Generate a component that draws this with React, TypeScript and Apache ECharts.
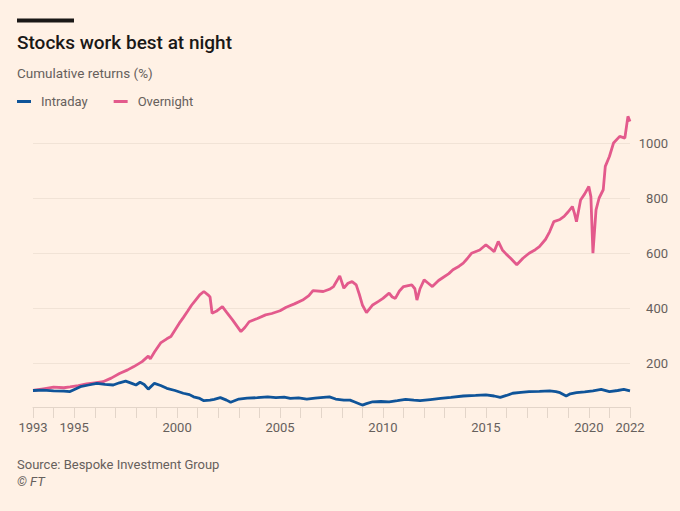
import React, { useEffect, useRef } from 'react';
import * as echarts from 'echarts';

// Overnight cumulative returns (%)
const overnightYears = [
  1993.0, 1993.5, 1994.0, 1994.5, 1994.8, 1995.2, 1995.6, 1996.0, 1996.4, 1996.8,
  1997.2, 1997.6, 1997.9, 1998.3, 1998.6, 1998.7, 1998.9, 1999.2, 1999.5, 1999.7,
  2000.1, 2000.3, 2000.5, 2000.7, 2000.9, 2001.1, 2001.3, 2001.5, 2001.6, 2001.7,
  2001.9, 2002.2, 2002.4, 2002.7, 2002.9, 2003.1, 2003.3, 2003.5, 2003.9, 2004.3,
  2004.6, 2005.0, 2005.3, 2005.7, 2006.1, 2006.4, 2006.6, 2007.1, 2007.4, 2007.6,
  2007.9, 2008.1, 2008.3, 2008.5, 2008.7, 2008.85, 2009.0, 2009.2, 2009.5, 2009.8,
  2010.0, 2010.3, 2010.45, 2010.6, 2010.8, 2011.0, 2011.4, 2011.55, 2011.65, 2011.8,
  2012.0, 2012.2, 2012.4, 2012.7, 2012.9, 2013.2, 2013.4, 2013.7, 2013.9, 2014.1,
  2014.3, 2014.7, 2015.0, 2015.2, 2015.4, 2015.6, 2015.8, 2016.0, 2016.2, 2016.5,
  2016.8, 2017.1, 2017.4, 2017.6, 2017.9, 2018.1, 2018.3, 2018.6, 2018.8, 2019.0,
  2019.2, 2019.3, 2019.4, 2019.6, 2019.8, 2020.0, 2020.1, 2020.2, 2020.35, 2020.5,
  2020.7, 2020.8, 2021.0, 2021.2, 2021.5, 2021.75, 2021.9, 2022.0,
];
const overnightValues = [
  100, 106, 112, 110, 113, 118, 124, 128, 132, 145,
  162, 175, 187, 205, 225, 215, 240, 273, 288, 296,
  344, 365, 387, 410, 429, 448, 460, 448, 440, 381,
  388, 405, 385, 356, 335, 314, 330, 350, 362, 375,
  380, 390, 403, 415, 429, 445, 463, 460, 468, 478,
  517, 472, 490, 496, 484, 450, 411, 383, 411, 425,
  435, 454, 440, 435, 462, 478, 484, 470, 429, 470,
  502, 490, 478, 500, 510, 525, 539, 552, 563, 580,
  599, 611, 630, 618, 605, 642, 611, 595, 581, 557,
  581, 599, 612, 623, 650, 678, 714, 722, 733, 750,
  769, 745, 714, 793, 815, 842, 805, 599, 757, 800,
  830, 915, 951, 1000, 1024, 1018, 1097, 1078,
];

// Intraday cumulative returns (%)
const intradayYears = [
  1993.0, 1993.5, 1994.0, 1994.5, 1994.8, 1995.3, 1995.7, 1996.1, 1996.5, 1996.9,
  1997.2, 1997.5, 1997.8, 1998.0, 1998.2, 1998.4, 1998.6, 1998.9, 1999.2, 1999.5,
  1999.9, 2000.3, 2000.6, 2000.8, 2001.1, 2001.3, 2001.6, 2001.8, 2002.1, 2002.4,
  2002.6, 2003.0, 2003.4, 2003.9, 2004.4, 2004.8, 2005.2, 2005.5, 2005.9, 2006.3,
  2006.7, 2007.1, 2007.4, 2007.7, 2008.1, 2008.4, 2008.6, 2008.9, 2009.0, 2009.2,
  2009.5, 2009.9, 2010.3, 2010.7, 2011.1, 2011.5, 2011.8, 2012.3, 2012.8, 2013.3,
  2013.9, 2014.5, 2015.0, 2015.4, 2015.7, 2016.0, 2016.3, 2016.7, 2017.1, 2017.6,
  2018.1, 2018.4, 2018.6, 2018.9, 2019.1, 2019.4, 2019.8, 2020.2, 2020.6, 2021.0,
  2021.4, 2021.7, 2022.0,
];
const intradayValues = [
  100, 101, 99, 98, 96, 114, 120, 126, 122, 120,
  128, 134, 126, 120, 130, 122, 105, 126, 118, 108,
  100, 90, 85, 77, 71, 63, 65, 68, 74, 65,
  57, 69, 72, 74, 77, 74, 76, 71, 73, 69,
  72, 75, 77, 69, 65, 65, 59, 50, 47, 52,
  59, 60, 59, 63, 68, 65, 63, 67, 71, 75,
  80, 82, 84, 80, 75, 82, 90, 93, 96, 97,
  99, 96, 92, 80, 88, 92, 95, 99, 104, 96,
  100, 104, 99,
];

const yearLabels = [1993, 1995, 2000, 2005, 2010, 2015, 2020, 2022];
const valueLabels = [200, 400, 600, 800, 1000];

const FONT = 'Roboto, "Noto Sans", sans-serif';
const GREY = '#66605C';

const App = () => {
  const chartRef = useRef<HTMLDivElement>(null);

  useEffect(() => {
    if (!chartRef.current) return;
    document.body.style.margin = '0';
    const chart = echarts.init(chartRef.current, null, { renderer: 'svg' });

    chart.setOption({
      animation: false,
      backgroundColor: '#FFF1E5',
      textStyle: { fontFamily: FONT },
      graphic: [
        { type: 'rect', shape: { x: 17, y: 18.5, width: 57, height: 4 }, style: { fill: '#1A1817' } },
        {
          type: 'text', x: 17, y: 42,
          style: { text: 'Stocks work best at night', fontSize: 19, fontWeight: 500, fill: '#1A1817', fontFamily: FONT, verticalAlign: 'middle' },
        },
        {
          type: 'text', x: 17, y: 73,
          style: { text: 'Cumulative returns (%)', fontSize: 13.5, fill: GREY, fontFamily: FONT, verticalAlign: 'middle' },
        },
        {
          type: 'text', x: 17, y: 464,
          style: { text: 'Source: Bespoke Investment Group', fontSize: 13, fill: GREY, fontFamily: FONT, verticalAlign: 'middle' },
        },
        {
          type: 'text', x: 17, y: 481,
          style: { text: '© FT', fontSize: 13, fontStyle: 'italic', fill: GREY, fontFamily: FONT, verticalAlign: 'middle' },
        },
      ],
      legend: {
        left: 12,
        top: 90,
        icon: 'rect',
        itemWidth: 14,
        itemHeight: 3,
        itemGap: 26,
        textStyle: { color: GREY, fontSize: 13, fontFamily: FONT, padding: [0, 0, 0, 5] },
        data: ['Intraday', 'Overnight'],
      },
      grid: { left: 33, right: 50, top: 88, bottom: 104 },
      xAxis: {
        type: 'value',
        min: 1993,
        max: 2022,
        interval: 1,
        axisLine: { show: true, lineStyle: { color: '#E3D5C9', width: 1 } },
        axisTick: { show: true, length: 11, lineStyle: { color: '#E3D5C9' } },
        splitLine: { show: false },
        axisLabel: {
          customValues: yearLabels,
          formatter: (v: number) => String(v),
          color: GREY,
          fontSize: 13,
          margin: 14,
          fontFamily: FONT,
        },
      },
      yAxis: {
        type: 'value',
        position: 'right',
        min: 40,
        max: 1200,
        axisLine: { show: false },
        axisTick: { show: false, customValues: valueLabels },
        splitLine: { show: true, lineStyle: { color: '#F1E3D6', width: 1 } },
        axisLabel: {
          customValues: valueLabels,
          formatter: (v: number) => String(v),
          color: GREY,
          fontSize: 13,
          align: 'right',
          margin: 38,
          fontFamily: FONT,
        },
      },
      series: [
        {
          name: 'Intraday',
          type: 'line',
          data: intradayYears.map((y, i) => [y, intradayValues[i]]),
          symbol: 'none',
          color: '#0F5499',
          lineStyle: { color: '#0F5499', width: 2.8 },
          z: 3,
        },
        {
          name: 'Overnight',
          type: 'line',
          data: overnightYears.map((y, i) => [y, overnightValues[i]]),
          symbol: 'none',
          color: '#E35A8C',
          lineStyle: { color: '#E35A8C', width: 2.8 },
          z: 2,
        },
      ],
    });

    return () => {
      chart.dispose();
    };
  }, []);

  return (
    <div
      ref={chartRef}
      style={{ position: 'fixed', left: 0, top: 0, width: 680, height: 511 }}
    />
  );
};

export default App;
